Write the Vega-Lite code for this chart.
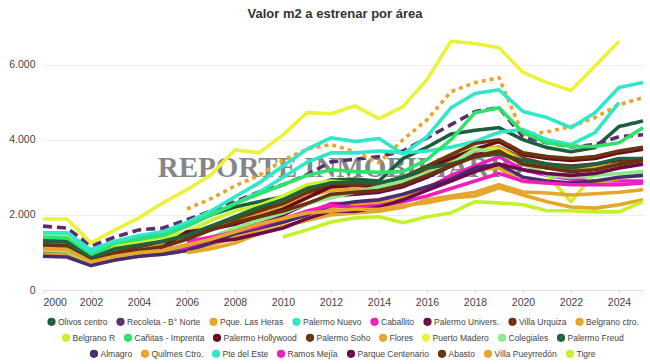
{
  "$schema": "https://vega.github.io/schema/vega-lite/v6.json",
  "width": 600,
  "height": 263,
  "autosize": {"type": "none"},
  "padding": {"left": 43, "top": 27, "right": 7, "bottom": 74},
  "background": "white",
  "title": {"text": "Valor m2 a estrenar por área", "fontSize": 13, "fontWeight": "bold", "color": "#333333", "font": "Liberation Sans", "anchor": "middle", "dx": -8, "offset": 6},
  "config": {
    "view": {"stroke": null},
    "font": "Liberation Sans",
    "legend": {
      "title": null, "orient": "bottom", "direction": "horizontal",
      "symbolType": "circle", "symbolSize": 14, "symbolStrokeWidth": 4.5,
      "labelFontSize": 8.5, "labelColor": "#444444", "labelFont": "Liberation Sans",
      "columnPadding": 1, "labelOffset": 2, "offset": 9, "padding": 0,
      "layout": {"bottom": {"direction": "vertical", "anchor": "middle", "center": true, "margin": 0}}
    }
  },
  "datasets": {
    "series": [
      {"area":"Olivos centro","year":2000,"value":1350},{"area":"Olivos centro","year":2001,"value":1330},{"area":"Olivos centro","year":2002,"value":880},{"area":"Olivos centro","year":2003,"value":1280},{"area":"Olivos centro","year":2004,"value":1400},{"area":"Olivos centro","year":2005,"value":1550},{"area":"Olivos centro","year":2006,"value":1750},{"area":"Olivos centro","year":2007,"value":2000},{"area":"Olivos centro","year":2008,"value":2210},{"area":"Olivos centro","year":2009,"value":2350},{"area":"Olivos centro","year":2010,"value":2480},{"area":"Olivos centro","year":2011,"value":2700},{"area":"Olivos centro","year":2012,"value":2930},{"area":"Olivos centro","year":2013,"value":2950},{"area":"Olivos centro","year":2014,"value":2900},{"area":"Olivos centro","year":2015,"value":3500},{"area":"Olivos centro","year":2016,"value":3800},{"area":"Olivos centro","year":2017,"value":4150},{"area":"Olivos centro","year":2018,"value":4250},{"area":"Olivos centro","year":2019,"value":4320},{"area":"Olivos centro","year":2020,"value":4000},{"area":"Olivos centro","year":2021,"value":3790},{"area":"Olivos centro","year":2022,"value":3680},{"area":"Olivos centro","year":2023,"value":3790},{"area":"Olivos centro","year":2024,"value":4350},{"area":"Olivos centro","year":2025,"value":4500},
      {"area":"Recoleta - B° Norte","year":2000,"value":1700},{"area":"Recoleta - B° Norte","year":2001,"value":1650},{"area":"Recoleta - B° Norte","year":2002,"value":1170},{"area":"Recoleta - B° Norte","year":2003,"value":1410},{"area":"Recoleta - B° Norte","year":2004,"value":1600},{"area":"Recoleta - B° Norte","year":2005,"value":1650},{"area":"Recoleta - B° Norte","year":2006,"value":1870},{"area":"Recoleta - B° Norte","year":2007,"value":2100},{"area":"Recoleta - B° Norte","year":2008,"value":2350},{"area":"Recoleta - B° Norte","year":2009,"value":2610},{"area":"Recoleta - B° Norte","year":2010,"value":2800},{"area":"Recoleta - B° Norte","year":2011,"value":3070},{"area":"Recoleta - B° Norte","year":2012,"value":3410},{"area":"Recoleta - B° Norte","year":2013,"value":3480},{"area":"Recoleta - B° Norte","year":2014,"value":3550},{"area":"Recoleta - B° Norte","year":2015,"value":3700},{"area":"Recoleta - B° Norte","year":2016,"value":4050},{"area":"Recoleta - B° Norte","year":2017,"value":4400},{"area":"Recoleta - B° Norte","year":2018,"value":4750},{"area":"Recoleta - B° Norte","year":2019,"value":4850},{"area":"Recoleta - B° Norte","year":2020,"value":4080},{"area":"Recoleta - B° Norte","year":2021,"value":3920},{"area":"Recoleta - B° Norte","year":2022,"value":3810},{"area":"Recoleta - B° Norte","year":2023,"value":3870},{"area":"Recoleta - B° Norte","year":2024,"value":4080},{"area":"Recoleta - B° Norte","year":2025,"value":4130},
      {"area":"Pque. Las Heras","year":2006,"value":2160},{"area":"Pque. Las Heras","year":2007,"value":2430},{"area":"Pque. Las Heras","year":2008,"value":2770},{"area":"Pque. Las Heras","year":2009,"value":3050},{"area":"Pque. Las Heras","year":2010,"value":3450},{"area":"Pque. Las Heras","year":2011,"value":3750},{"area":"Pque. Las Heras","year":2012,"value":3870},{"area":"Pque. Las Heras","year":2013,"value":3680},{"area":"Pque. Las Heras","year":2014,"value":3390},{"area":"Pque. Las Heras","year":2015,"value":4000},{"area":"Pque. Las Heras","year":2016,"value":4530},{"area":"Pque. Las Heras","year":2017,"value":5280},{"area":"Pque. Las Heras","year":2018,"value":5520},{"area":"Pque. Las Heras","year":2019,"value":5650},{"area":"Pque. Las Heras","year":2020,"value":4130},{"area":"Pque. Las Heras","year":2021,"value":4210},{"area":"Pque. Las Heras","year":2022,"value":4350},{"area":"Pque. Las Heras","year":2023,"value":4590},{"area":"Pque. Las Heras","year":2024,"value":4930},{"area":"Pque. Las Heras","year":2025,"value":5120},
      {"area":"Palermo Nuevo","year":2000,"value":1450},{"area":"Palermo Nuevo","year":2001,"value":1450},{"area":"Palermo Nuevo","year":2002,"value":1000},{"area":"Palermo Nuevo","year":2003,"value":1250},{"area":"Palermo Nuevo","year":2004,"value":1350},{"area":"Palermo Nuevo","year":2005,"value":1450},{"area":"Palermo Nuevo","year":2006,"value":1700},{"area":"Palermo Nuevo","year":2007,"value":2000},{"area":"Palermo Nuevo","year":2008,"value":2300},{"area":"Palermo Nuevo","year":2009,"value":2600},{"area":"Palermo Nuevo","year":2010,"value":3000},{"area":"Palermo Nuevo","year":2011,"value":3400},{"area":"Palermo Nuevo","year":2012,"value":3650},{"area":"Palermo Nuevo","year":2013,"value":3650},{"area":"Palermo Nuevo","year":2014,"value":3700},{"area":"Palermo Nuevo","year":2015,"value":3650},{"area":"Palermo Nuevo","year":2016,"value":3700},{"area":"Palermo Nuevo","year":2017,"value":3800},{"area":"Palermo Nuevo","year":2018,"value":3950},{"area":"Palermo Nuevo","year":2019,"value":4200},{"area":"Palermo Nuevo","year":2020,"value":4270},{"area":"Palermo Nuevo","year":2021,"value":4000},{"area":"Palermo Nuevo","year":2022,"value":3870},{"area":"Palermo Nuevo","year":2023,"value":4190},{"area":"Palermo Nuevo","year":2024,"value":4990},
      {"area":"Caballito","year":2000,"value":1000},{"area":"Caballito","year":2001,"value":980},{"area":"Caballito","year":2002,"value":720},{"area":"Caballito","year":2003,"value":850},{"area":"Caballito","year":2004,"value":950},{"area":"Caballito","year":2005,"value":1000},{"area":"Caballito","year":2006,"value":1100},{"area":"Caballito","year":2007,"value":1300},{"area":"Caballito","year":2008,"value":1500},{"area":"Caballito","year":2009,"value":1700},{"area":"Caballito","year":2010,"value":1900},{"area":"Caballito","year":2011,"value":2050},{"area":"Caballito","year":2012,"value":2300},{"area":"Caballito","year":2013,"value":2300},{"area":"Caballito","year":2014,"value":2350},{"area":"Caballito","year":2015,"value":2400},{"area":"Caballito","year":2016,"value":2700},{"area":"Caballito","year":2017,"value":3050},{"area":"Caballito","year":2018,"value":3300},{"area":"Caballito","year":2019,"value":3550},{"area":"Caballito","year":2020,"value":3200},{"area":"Caballito","year":2021,"value":3050},{"area":"Caballito","year":2022,"value":2950},{"area":"Caballito","year":2023,"value":2900},{"area":"Caballito","year":2024,"value":2900},{"area":"Caballito","year":2025,"value":2900},
      {"area":"Palermo Univers.","year":2000,"value":1000},{"area":"Palermo Univers.","year":2001,"value":980},{"area":"Palermo Univers.","year":2002,"value":700},{"area":"Palermo Univers.","year":2003,"value":850},{"area":"Palermo Univers.","year":2004,"value":950},{"area":"Palermo Univers.","year":2005,"value":1050},{"area":"Palermo Univers.","year":2006,"value":1200},{"area":"Palermo Univers.","year":2007,"value":1400},{"area":"Palermo Univers.","year":2008,"value":1600},{"area":"Palermo Univers.","year":2009,"value":1800},{"area":"Palermo Univers.","year":2010,"value":2000},{"area":"Palermo Univers.","year":2011,"value":2300},{"area":"Palermo Univers.","year":2012,"value":2500},{"area":"Palermo Univers.","year":2013,"value":2550},{"area":"Palermo Univers.","year":2014,"value":2600},{"area":"Palermo Univers.","year":2015,"value":2750},{"area":"Palermo Univers.","year":2016,"value":3000},{"area":"Palermo Univers.","year":2017,"value":3300},{"area":"Palermo Univers.","year":2018,"value":3600},{"area":"Palermo Univers.","year":2019,"value":3700},{"area":"Palermo Univers.","year":2020,"value":3400},{"area":"Palermo Univers.","year":2021,"value":3250},{"area":"Palermo Univers.","year":2022,"value":3200},{"area":"Palermo Univers.","year":2023,"value":3250},{"area":"Palermo Univers.","year":2024,"value":3350},{"area":"Palermo Univers.","year":2025,"value":3400},
      {"area":"Villa Urquiza","year":2000,"value":1150},{"area":"Villa Urquiza","year":2001,"value":1120},{"area":"Villa Urquiza","year":2002,"value":780},{"area":"Villa Urquiza","year":2003,"value":950},{"area":"Villa Urquiza","year":2004,"value":1100},{"area":"Villa Urquiza","year":2005,"value":1200},{"area":"Villa Urquiza","year":2006,"value":1500},{"area":"Villa Urquiza","year":2007,"value":1600},{"area":"Villa Urquiza","year":2008,"value":1900},{"area":"Villa Urquiza","year":2009,"value":2150},{"area":"Villa Urquiza","year":2010,"value":2300},{"area":"Villa Urquiza","year":2011,"value":2550},{"area":"Villa Urquiza","year":2012,"value":2750},{"area":"Villa Urquiza","year":2013,"value":2700},{"area":"Villa Urquiza","year":2014,"value":2800},{"area":"Villa Urquiza","year":2015,"value":2950},{"area":"Villa Urquiza","year":2016,"value":3200},{"area":"Villa Urquiza","year":2017,"value":3450},{"area":"Villa Urquiza","year":2018,"value":3700},{"area":"Villa Urquiza","year":2019,"value":3800},{"area":"Villa Urquiza","year":2020,"value":3500},{"area":"Villa Urquiza","year":2021,"value":3350},{"area":"Villa Urquiza","year":2022,"value":3300},{"area":"Villa Urquiza","year":2023,"value":3350},{"area":"Villa Urquiza","year":2024,"value":3450},{"area":"Villa Urquiza","year":2025,"value":3500},
      {"area":"Belgrano ctro.","year":2000,"value":1250},{"area":"Belgrano ctro.","year":2001,"value":1230},{"area":"Belgrano ctro.","year":2002,"value":820},{"area":"Belgrano ctro.","year":2003,"value":1000},{"area":"Belgrano ctro.","year":2004,"value":1100},{"area":"Belgrano ctro.","year":2005,"value":1200},{"area":"Belgrano ctro.","year":2006,"value":1400},{"area":"Belgrano ctro.","year":2007,"value":1600},{"area":"Belgrano ctro.","year":2008,"value":1850},{"area":"Belgrano ctro.","year":2009,"value":2050},{"area":"Belgrano ctro.","year":2010,"value":2250},{"area":"Belgrano ctro.","year":2011,"value":2500},{"area":"Belgrano ctro.","year":2012,"value":2650},{"area":"Belgrano ctro.","year":2013,"value":2700},{"area":"Belgrano ctro.","year":2014,"value":2750},{"area":"Belgrano ctro.","year":2015,"value":2900},{"area":"Belgrano ctro.","year":2016,"value":3150},{"area":"Belgrano ctro.","year":2017,"value":3450},{"area":"Belgrano ctro.","year":2018,"value":3700},{"area":"Belgrano ctro.","year":2019,"value":3800},{"area":"Belgrano ctro.","year":2020,"value":3450},{"area":"Belgrano ctro.","year":2021,"value":3300},{"area":"Belgrano ctro.","year":2022,"value":3250},{"area":"Belgrano ctro.","year":2023,"value":3250},{"area":"Belgrano ctro.","year":2024,"value":3350},{"area":"Belgrano ctro.","year":2025,"value":3400},
      {"area":"Belgrano R","year":2000,"value":1450},{"area":"Belgrano R","year":2001,"value":1420},{"area":"Belgrano R","year":2002,"value":850},{"area":"Belgrano R","year":2003,"value":1150},{"area":"Belgrano R","year":2004,"value":1300},{"area":"Belgrano R","year":2005,"value":1400},{"area":"Belgrano R","year":2006,"value":1550},{"area":"Belgrano R","year":2007,"value":1850},{"area":"Belgrano R","year":2008,"value":2100},{"area":"Belgrano R","year":2009,"value":2250},{"area":"Belgrano R","year":2010,"value":2500},{"area":"Belgrano R","year":2011,"value":2800},{"area":"Belgrano R","year":2012,"value":2900},{"area":"Belgrano R","year":2013,"value":2850},{"area":"Belgrano R","year":2014,"value":2800},{"area":"Belgrano R","year":2015,"value":3000},{"area":"Belgrano R","year":2016,"value":3300},{"area":"Belgrano R","year":2017,"value":3600},{"area":"Belgrano R","year":2018,"value":3800},{"area":"Belgrano R","year":2019,"value":3750},{"area":"Belgrano R","year":2020,"value":3400},{"area":"Belgrano R","year":2021,"value":3070},{"area":"Belgrano R","year":2022,"value":2350},{"area":"Belgrano R","year":2023,"value":3120},{"area":"Belgrano R","year":2024,"value":3250},{"area":"Belgrano R","year":2025,"value":3390},
      {"area":"Cañitas - Imprenta","year":2000,"value":1400},{"area":"Cañitas - Imprenta","year":2001,"value":1380},{"area":"Cañitas - Imprenta","year":2002,"value":900},{"area":"Cañitas - Imprenta","year":2003,"value":1250},{"area":"Cañitas - Imprenta","year":2004,"value":1350},{"area":"Cañitas - Imprenta","year":2005,"value":1450},{"area":"Cañitas - Imprenta","year":2006,"value":1700},{"area":"Cañitas - Imprenta","year":2007,"value":2000},{"area":"Cañitas - Imprenta","year":2008,"value":2300},{"area":"Cañitas - Imprenta","year":2009,"value":2550},{"area":"Cañitas - Imprenta","year":2010,"value":2800},{"area":"Cañitas - Imprenta","year":2011,"value":3050},{"area":"Cañitas - Imprenta","year":2012,"value":3200},{"area":"Cañitas - Imprenta","year":2013,"value":3150},{"area":"Cañitas - Imprenta","year":2014,"value":3130},{"area":"Cañitas - Imprenta","year":2015,"value":3150},{"area":"Cañitas - Imprenta","year":2016,"value":3470},{"area":"Cañitas - Imprenta","year":2017,"value":4000},{"area":"Cañitas - Imprenta","year":2018,"value":4720},{"area":"Cañitas - Imprenta","year":2019,"value":4850},{"area":"Cañitas - Imprenta","year":2020,"value":4190},{"area":"Cañitas - Imprenta","year":2021,"value":3920},{"area":"Cañitas - Imprenta","year":2022,"value":3820},{"area":"Cañitas - Imprenta","year":2023,"value":3820},{"area":"Cañitas - Imprenta","year":2024,"value":3920},{"area":"Cañitas - Imprenta","year":2025,"value":4320},
      {"area":"Palermo Hollywood","year":2000,"value":1100},{"area":"Palermo Hollywood","year":2001,"value":1080},{"area":"Palermo Hollywood","year":2002,"value":760},{"area":"Palermo Hollywood","year":2003,"value":950},{"area":"Palermo Hollywood","year":2004,"value":1050},{"area":"Palermo Hollywood","year":2005,"value":1150},{"area":"Palermo Hollywood","year":2006,"value":1550},{"area":"Palermo Hollywood","year":2007,"value":1620},{"area":"Palermo Hollywood","year":2008,"value":1750},{"area":"Palermo Hollywood","year":2009,"value":1950},{"area":"Palermo Hollywood","year":2010,"value":2150},{"area":"Palermo Hollywood","year":2011,"value":2450},{"area":"Palermo Hollywood","year":2012,"value":2750},{"area":"Palermo Hollywood","year":2013,"value":2800},{"area":"Palermo Hollywood","year":2014,"value":2750},{"area":"Palermo Hollywood","year":2015,"value":2950},{"area":"Palermo Hollywood","year":2016,"value":3250},{"area":"Palermo Hollywood","year":2017,"value":3500},{"area":"Palermo Hollywood","year":2018,"value":3750},{"area":"Palermo Hollywood","year":2019,"value":3950},{"area":"Palermo Hollywood","year":2020,"value":3600},{"area":"Palermo Hollywood","year":2021,"value":3500},{"area":"Palermo Hollywood","year":2022,"value":3450},{"area":"Palermo Hollywood","year":2023,"value":3500},{"area":"Palermo Hollywood","year":2024,"value":3650},{"area":"Palermo Hollywood","year":2025,"value":3750},
      {"area":"Palermo Soho","year":2000,"value":1200},{"area":"Palermo Soho","year":2001,"value":1180},{"area":"Palermo Soho","year":2002,"value":820},{"area":"Palermo Soho","year":2003,"value":1000},{"area":"Palermo Soho","year":2004,"value":1150},{"area":"Palermo Soho","year":2005,"value":1300},{"area":"Palermo Soho","year":2006,"value":1450},{"area":"Palermo Soho","year":2007,"value":1700},{"area":"Palermo Soho","year":2008,"value":1900},{"area":"Palermo Soho","year":2009,"value":2100},{"area":"Palermo Soho","year":2010,"value":2300},{"area":"Palermo Soho","year":2011,"value":2600},{"area":"Palermo Soho","year":2012,"value":2850},{"area":"Palermo Soho","year":2013,"value":2800},{"area":"Palermo Soho","year":2014,"value":2800},{"area":"Palermo Soho","year":2015,"value":3000},{"area":"Palermo Soho","year":2016,"value":3300},{"area":"Palermo Soho","year":2017,"value":3600},{"area":"Palermo Soho","year":2018,"value":3900},{"area":"Palermo Soho","year":2019,"value":4000},{"area":"Palermo Soho","year":2020,"value":3650},{"area":"Palermo Soho","year":2021,"value":3550},{"area":"Palermo Soho","year":2022,"value":3500},{"area":"Palermo Soho","year":2023,"value":3550},{"area":"Palermo Soho","year":2024,"value":3700},{"area":"Palermo Soho","year":2025,"value":3800},
      {"area":"Flores","year":2000,"value":950},{"area":"Flores","year":2001,"value":930},{"area":"Flores","year":2002,"value":680},{"area":"Flores","year":2003,"value":800},{"area":"Flores","year":2004,"value":900},{"area":"Flores","year":2005,"value":950},{"area":"Flores","year":2006,"value":1050},{"area":"Flores","year":2007,"value":1200},{"area":"Flores","year":2008,"value":1400},{"area":"Flores","year":2009,"value":1600},{"area":"Flores","year":2010,"value":1800},{"area":"Flores","year":2011,"value":2000},{"area":"Flores","year":2012,"value":2200},{"area":"Flores","year":2013,"value":2250},{"area":"Flores","year":2014,"value":2300},{"area":"Flores","year":2015,"value":2450},{"area":"Flores","year":2016,"value":2700},{"area":"Flores","year":2017,"value":2950},{"area":"Flores","year":2018,"value":3200},{"area":"Flores","year":2019,"value":3250},{"area":"Flores","year":2020,"value":2880},{"area":"Flores","year":2021,"value":2850},{"area":"Flores","year":2022,"value":2850},{"area":"Flores","year":2023,"value":2850},{"area":"Flores","year":2024,"value":2960},
      {"area":"Puerto Madero","year":2000,"value":1890},{"area":"Puerto Madero","year":2001,"value":1890},{"area":"Puerto Madero","year":2002,"value":1250},{"area":"Puerto Madero","year":2003,"value":1600},{"area":"Puerto Madero","year":2004,"value":1920},{"area":"Puerto Madero","year":2005,"value":2320},{"area":"Puerto Madero","year":2006,"value":2670},{"area":"Puerto Madero","year":2007,"value":3070},{"area":"Puerto Madero","year":2008,"value":3730},{"area":"Puerto Madero","year":2009,"value":3650},{"area":"Puerto Madero","year":2010,"value":4130},{"area":"Puerto Madero","year":2011,"value":4720},{"area":"Puerto Madero","year":2012,"value":4690},{"area":"Puerto Madero","year":2013,"value":4900},{"area":"Puerto Madero","year":2014,"value":4560},{"area":"Puerto Madero","year":2015,"value":4880},{"area":"Puerto Madero","year":2016,"value":5600},{"area":"Puerto Madero","year":2017,"value":6620},{"area":"Puerto Madero","year":2018,"value":6560},{"area":"Puerto Madero","year":2019,"value":6450},{"area":"Puerto Madero","year":2020,"value":5790},{"area":"Puerto Madero","year":2021,"value":5520},{"area":"Puerto Madero","year":2022,"value":5310},{"area":"Puerto Madero","year":2023,"value":5960},{"area":"Puerto Madero","year":2024,"value":6620},
      {"area":"Colegiales","year":2000,"value":1050},{"area":"Colegiales","year":2001,"value":1030},{"area":"Colegiales","year":2002,"value":730},{"area":"Colegiales","year":2003,"value":880},{"area":"Colegiales","year":2004,"value":980},{"area":"Colegiales","year":2005,"value":1050},{"area":"Colegiales","year":2006,"value":1200},{"area":"Colegiales","year":2007,"value":1400},{"area":"Colegiales","year":2008,"value":1650},{"area":"Colegiales","year":2009,"value":1850},{"area":"Colegiales","year":2010,"value":2050},{"area":"Colegiales","year":2011,"value":2300},{"area":"Colegiales","year":2012,"value":2450},{"area":"Colegiales","year":2013,"value":2600},{"area":"Colegiales","year":2014,"value":2750},{"area":"Colegiales","year":2015,"value":2900},{"area":"Colegiales","year":2016,"value":3100},{"area":"Colegiales","year":2017,"value":3350},{"area":"Colegiales","year":2018,"value":3750},{"area":"Colegiales","year":2019,"value":3650},{"area":"Colegiales","year":2020,"value":3350},{"area":"Colegiales","year":2021,"value":3050},{"area":"Colegiales","year":2022,"value":3000},{"area":"Colegiales","year":2023,"value":3050},{"area":"Colegiales","year":2024,"value":3100},{"area":"Colegiales","year":2025,"value":3150},
      {"area":"Palermo Freud","year":2000,"value":1300},{"area":"Palermo Freud","year":2001,"value":1280},{"area":"Palermo Freud","year":2002,"value":850},{"area":"Palermo Freud","year":2003,"value":1100},{"area":"Palermo Freud","year":2004,"value":1200},{"area":"Palermo Freud","year":2005,"value":1300},{"area":"Palermo Freud","year":2006,"value":1450},{"area":"Palermo Freud","year":2007,"value":1700},{"area":"Palermo Freud","year":2008,"value":1950},{"area":"Palermo Freud","year":2009,"value":2200},{"area":"Palermo Freud","year":2010,"value":2400},{"area":"Palermo Freud","year":2011,"value":2700},{"area":"Palermo Freud","year":2012,"value":2850},{"area":"Palermo Freud","year":2013,"value":2880},{"area":"Palermo Freud","year":2014,"value":2850},{"area":"Palermo Freud","year":2015,"value":3000},{"area":"Palermo Freud","year":2016,"value":3250},{"area":"Palermo Freud","year":2017,"value":3350},{"area":"Palermo Freud","year":2018,"value":3550},{"area":"Palermo Freud","year":2019,"value":3620},{"area":"Palermo Freud","year":2020,"value":3450},{"area":"Palermo Freud","year":2021,"value":3350},{"area":"Palermo Freud","year":2022,"value":3250},{"area":"Palermo Freud","year":2023,"value":3350},{"area":"Palermo Freud","year":2024,"value":3500},{"area":"Palermo Freud","year":2025,"value":3500},
      {"area":"Almagro","year":2000,"value":900},{"area":"Almagro","year":2001,"value":880},{"area":"Almagro","year":2002,"value":650},{"area":"Almagro","year":2003,"value":800},{"area":"Almagro","year":2004,"value":900},{"area":"Almagro","year":2005,"value":950},{"area":"Almagro","year":2006,"value":1050},{"area":"Almagro","year":2007,"value":1250},{"area":"Almagro","year":2008,"value":1500},{"area":"Almagro","year":2009,"value":1650},{"area":"Almagro","year":2010,"value":1800},{"area":"Almagro","year":2011,"value":2000},{"area":"Almagro","year":2012,"value":2250},{"area":"Almagro","year":2013,"value":2350},{"area":"Almagro","year":2014,"value":2400},{"area":"Almagro","year":2015,"value":2550},{"area":"Almagro","year":2016,"value":2750},{"area":"Almagro","year":2017,"value":2950},{"area":"Almagro","year":2018,"value":3250},{"area":"Almagro","year":2019,"value":3350},{"area":"Almagro","year":2020,"value":3000},{"area":"Almagro","year":2021,"value":2900},{"area":"Almagro","year":2022,"value":2850},{"area":"Almagro","year":2023,"value":2900},{"area":"Almagro","year":2024,"value":3000},{"area":"Almagro","year":2025,"value":3050},
      {"area":"Quilmes Ctro.","year":2006,"value":990},{"area":"Quilmes Ctro.","year":2007,"value":1100},{"area":"Quilmes Ctro.","year":2008,"value":1250},{"area":"Quilmes Ctro.","year":2009,"value":1500},{"area":"Quilmes Ctro.","year":2010,"value":1700},{"area":"Quilmes Ctro.","year":2011,"value":1850},{"area":"Quilmes Ctro.","year":2012,"value":2000},{"area":"Quilmes Ctro.","year":2013,"value":2050},{"area":"Quilmes Ctro.","year":2014,"value":2100},{"area":"Quilmes Ctro.","year":2015,"value":2200},{"area":"Quilmes Ctro.","year":2016,"value":2400},{"area":"Quilmes Ctro.","year":2017,"value":2500},{"area":"Quilmes Ctro.","year":2018,"value":2600},{"area":"Quilmes Ctro.","year":2019,"value":2800},{"area":"Quilmes Ctro.","year":2020,"value":2610},{"area":"Quilmes Ctro.","year":2021,"value":2580},{"area":"Quilmes Ctro.","year":2022,"value":2530},{"area":"Quilmes Ctro.","year":2023,"value":2560},{"area":"Quilmes Ctro.","year":2024,"value":2600},{"area":"Quilmes Ctro.","year":2025,"value":2670},
      {"area":"Pte del Este","year":2000,"value":1520},{"area":"Pte del Este","year":2001,"value":1520},{"area":"Pte del Este","year":2002,"value":1070},{"area":"Pte del Este","year":2003,"value":1300},{"area":"Pte del Este","year":2004,"value":1450},{"area":"Pte del Este","year":2005,"value":1550},{"area":"Pte del Este","year":2006,"value":1800},{"area":"Pte del Este","year":2007,"value":2100},{"area":"Pte del Este","year":2008,"value":2480},{"area":"Pte del Este","year":2009,"value":2850},{"area":"Pte del Este","year":2010,"value":3300},{"area":"Pte del Este","year":2011,"value":3750},{"area":"Pte del Este","year":2012,"value":4050},{"area":"Pte del Este","year":2013,"value":3950},{"area":"Pte del Este","year":2014,"value":4030},{"area":"Pte del Este","year":2015,"value":3620},{"area":"Pte del Este","year":2016,"value":4080},{"area":"Pte del Este","year":2017,"value":4850},{"area":"Pte del Este","year":2018,"value":5230},{"area":"Pte del Este","year":2019,"value":5330},{"area":"Pte del Este","year":2020,"value":4750},{"area":"Pte del Este","year":2021,"value":4590},{"area":"Pte del Este","year":2022,"value":4320},{"area":"Pte del Este","year":2023,"value":4720},{"area":"Pte del Este","year":2024,"value":5390},{"area":"Pte del Este","year":2025,"value":5520},
      {"area":"Ramos Mejía","year":2006,"value":1300},{"area":"Ramos Mejía","year":2007,"value":1400},{"area":"Ramos Mejía","year":2008,"value":1550},{"area":"Ramos Mejía","year":2009,"value":1700},{"area":"Ramos Mejía","year":2010,"value":1900},{"area":"Ramos Mejía","year":2011,"value":2100},{"area":"Ramos Mejía","year":2012,"value":2250},{"area":"Ramos Mejía","year":2013,"value":2200},{"area":"Ramos Mejía","year":2014,"value":2250},{"area":"Ramos Mejía","year":2015,"value":2350},{"area":"Ramos Mejía","year":2016,"value":2500},{"area":"Ramos Mejía","year":2017,"value":2700},{"area":"Ramos Mejía","year":2018,"value":2900},{"area":"Ramos Mejía","year":2019,"value":3100},{"area":"Ramos Mejía","year":2020,"value":2900},{"area":"Ramos Mejía","year":2021,"value":2850},{"area":"Ramos Mejía","year":2022,"value":2800},{"area":"Ramos Mejía","year":2023,"value":2800},{"area":"Ramos Mejía","year":2024,"value":2800},{"area":"Ramos Mejía","year":2025,"value":2850},
      {"area":"Parque Centenario","year":2007,"value":1280},{"area":"Parque Centenario","year":2008,"value":1350},{"area":"Parque Centenario","year":2009,"value":1500},{"area":"Parque Centenario","year":2010,"value":1650},{"area":"Parque Centenario","year":2011,"value":1900},{"area":"Parque Centenario","year":2012,"value":2100},{"area":"Parque Centenario","year":2013,"value":2100},{"area":"Parque Centenario","year":2014,"value":2200},{"area":"Parque Centenario","year":2015,"value":2400},{"area":"Parque Centenario","year":2016,"value":2650},{"area":"Parque Centenario","year":2017,"value":2900},{"area":"Parque Centenario","year":2018,"value":3150},{"area":"Parque Centenario","year":2019,"value":3350},{"area":"Parque Centenario","year":2020,"value":3200},{"area":"Parque Centenario","year":2021,"value":3100},{"area":"Parque Centenario","year":2022,"value":3050},{"area":"Parque Centenario","year":2023,"value":3100},{"area":"Parque Centenario","year":2024,"value":3250},{"area":"Parque Centenario","year":2025,"value":3350},
      {"area":"Abasto","year":2000,"value":1150},{"area":"Abasto","year":2001,"value":1120},{"area":"Abasto","year":2002,"value":780},{"area":"Abasto","year":2003,"value":950},{"area":"Abasto","year":2004,"value":1050},{"area":"Abasto","year":2005,"value":1150},{"area":"Abasto","year":2006,"value":1350},{"area":"Abasto","year":2007,"value":1600},{"area":"Abasto","year":2008,"value":1800},{"area":"Abasto","year":2009,"value":1950},{"area":"Abasto","year":2010,"value":2100},{"area":"Abasto","year":2011,"value":2300},{"area":"Abasto","year":2012,"value":2550},{"area":"Abasto","year":2013,"value":2600},{"area":"Abasto","year":2014,"value":2650},{"area":"Abasto","year":2015,"value":2800},{"area":"Abasto","year":2016,"value":3050},{"area":"Abasto","year":2017,"value":3300},{"area":"Abasto","year":2018,"value":3550},{"area":"Abasto","year":2019,"value":3700},{"area":"Abasto","year":2020,"value":3350},{"area":"Abasto","year":2021,"value":3250},{"area":"Abasto","year":2022,"value":3150},{"area":"Abasto","year":2023,"value":3200},{"area":"Abasto","year":2024,"value":3350},{"area":"Abasto","year":2025,"value":3450},
      {"area":"Villa Pueyrredón","year":2000,"value":1100},{"area":"Villa Pueyrredón","year":2001,"value":1080},{"area":"Villa Pueyrredón","year":2002,"value":750},{"area":"Villa Pueyrredón","year":2003,"value":900},{"area":"Villa Pueyrredón","year":2004,"value":1000},{"area":"Villa Pueyrredón","year":2005,"value":1050},{"area":"Villa Pueyrredón","year":2006,"value":1200},{"area":"Villa Pueyrredón","year":2007,"value":1350},{"area":"Villa Pueyrredón","year":2008,"value":1550},{"area":"Villa Pueyrredón","year":2009,"value":1750},{"area":"Villa Pueyrredón","year":2010,"value":1900},{"area":"Villa Pueyrredón","year":2011,"value":2050},{"area":"Villa Pueyrredón","year":2012,"value":2100},{"area":"Villa Pueyrredón","year":2013,"value":2150},{"area":"Villa Pueyrredón","year":2014,"value":2150},{"area":"Villa Pueyrredón","year":2015,"value":2250},{"area":"Villa Pueyrredón","year":2016,"value":2320},{"area":"Villa Pueyrredón","year":2017,"value":2450},{"area":"Villa Pueyrredón","year":2018,"value":2500},{"area":"Villa Pueyrredón","year":2019,"value":2720},{"area":"Villa Pueyrredón","year":2020,"value":2530},{"area":"Villa Pueyrredón","year":2021,"value":2350},{"area":"Villa Pueyrredón","year":2022,"value":2210},{"area":"Villa Pueyrredón","year":2023,"value":2180},{"area":"Villa Pueyrredón","year":2024,"value":2270},{"area":"Villa Pueyrredón","year":2025,"value":2400},
      {"area":"Tigre","year":2010,"value":1410},{"area":"Tigre","year":2011,"value":1600},{"area":"Tigre","year":2012,"value":1810},{"area":"Tigre","year":2013,"value":1920},{"area":"Tigre","year":2014,"value":1950},{"area":"Tigre","year":2015,"value":1790},{"area":"Tigre","year":2016,"value":1950},{"area":"Tigre","year":2017,"value":2050},{"area":"Tigre","year":2018,"value":2350},{"area":"Tigre","year":2019,"value":2320},{"area":"Tigre","year":2020,"value":2270},{"area":"Tigre","year":2021,"value":2110},{"area":"Tigre","year":2022,"value":2110},{"area":"Tigre","year":2023,"value":2080},{"area":"Tigre","year":2024,"value":2080},{"area":"Tigre","year":2025,"value":2350}
    ],
    "watermark": [{"label": "REPORTE INMOBILIARIO", "year": 2012.4, "value": 3250}]
  },
  "encoding": {
    "x": {
      "field": "year", "type": "quantitative",
      "scale": {"domain": [2000, 2025], "nice": false, "zero": false},
      "axis": {"title": null, "values": [2000,2002,2004,2006,2008,2010,2012,2014,2016,2018,2020,2022,2024], "format": "d", "grid": false, "domainColor": "#e0e0e0", "tickColor": "#e0e0e0", "tickSize": 4, "labelFontSize": 10.5, "labelColor": "#444444", "labelPadding": 3, "labelFont": "Liberation Sans"}
    },
    "y": {
      "field": "value", "type": "quantitative",
      "scale": {"domain": [0, 7000], "nice": false},
      "axis": {"title": null, "values": [0, 2000, 4000, 6000], "labelExpr": "replace(format(datum.value, ','), ',', '.')", "domain": false, "ticks": false, "gridColor": "#eeeeee", "labelFontSize": 10.5, "labelColor": "#444444", "labelPadding": 8, "labelFont": "Liberation Sans"}
    }
  },
  "layer": [
    {
      "data": {"name": "watermark"},
      "mark": {"type": "text", "font": "Liberation Serif", "fontWeight": "bold", "fontSize": 29, "color": "#7a7a7a", "opacity": 0.9, "baseline": "middle", "align": "center"},
      "encoding": {
        "text": {"field": "label"}
      }
    },
    {
      "data": {"name": "series"},
      "transform": [{"filter": {"field": "area", "oneOf": ["Olivos centro","Recoleta - B° Norte","Pque. Las Heras","Palermo Nuevo","Caballito","Palermo Univers.","Villa Urquiza","Belgrano ctro."]}}],
      "mark": {"type": "line", "strokeWidth": 3.6, "strokeJoin": "round"},
      "encoding": {
        "color": {
          "field": "area", "type": "nominal",
          "scale": {
            "domain": ["Olivos centro","Recoleta - B° Norte","Pque. Las Heras","Palermo Nuevo","Caballito","Palermo Univers.","Villa Urquiza","Belgrano ctro."],
            "range": ["#1d5e3c","#5a2d6e","#e6a52b","#2ee8c8","#ef1fbe","#6a0b4b","#6a3010","#e6a52b"]
          }
        },
        "strokeDash": {
          "field": "area", "type": "nominal", "legend": null,
          "scale": {
            "domain": ["Olivos centro","Recoleta - B° Norte","Pque. Las Heras","Palermo Nuevo","Caballito","Palermo Univers.","Villa Urquiza","Belgrano ctro."],
            "range": [[1,0],[9,5],[4,4],[1,0],[1,0],[1,0],[1,0],[1,0]]
          }
        }
      }
    },
    {
      "data": {"name": "series"},
      "transform": [{"filter": {"field": "area", "oneOf": ["Belgrano R","Cañitas - Imprenta","Palermo Hollywood","Palermo Soho","Flores","Puerto Madero","Colegiales","Palermo Freud"]}}],
      "mark": {"type": "line", "strokeWidth": 3.6, "strokeJoin": "round"},
      "encoding": {
        "color": {
          "field": "area", "type": "nominal",
          "scale": {
            "domain": ["Belgrano R","Cañitas - Imprenta","Palermo Hollywood","Palermo Soho","Flores","Puerto Madero","Colegiales","Palermo Freud"],
            "range": ["#c9f22a","#2de36b","#6b0b1c","#6b3512","#e6a52b","#ecf23a","#8ee88e","#1e6240"]
          }
        }
      }
    },
    {
      "data": {"name": "series"},
      "transform": [{"filter": {"field": "area", "oneOf": ["Almagro","Quilmes Ctro.","Pte del Este","Ramos Mejía","Parque Centenario","Abasto","Villa Pueyrredón","Tigre"]}}],
      "mark": {"type": "line", "strokeWidth": 3.6, "strokeJoin": "round"},
      "encoding": {
        "color": {
          "field": "area", "type": "nominal",
          "scale": {
            "domain": ["Almagro","Quilmes Ctro.","Pte del Este","Ramos Mejía","Parque Centenario","Abasto","Villa Pueyrredón","Tigre"],
            "range": ["#4a2b6b","#e6a52b","#2ee8c8","#ef1fbe","#6a0b4b","#6a3010","#e6a52b","#c4f22a"]
          }
        }
      }
    }
  ],
  "resolve": {"scale": {"color": "independent"}}
}
